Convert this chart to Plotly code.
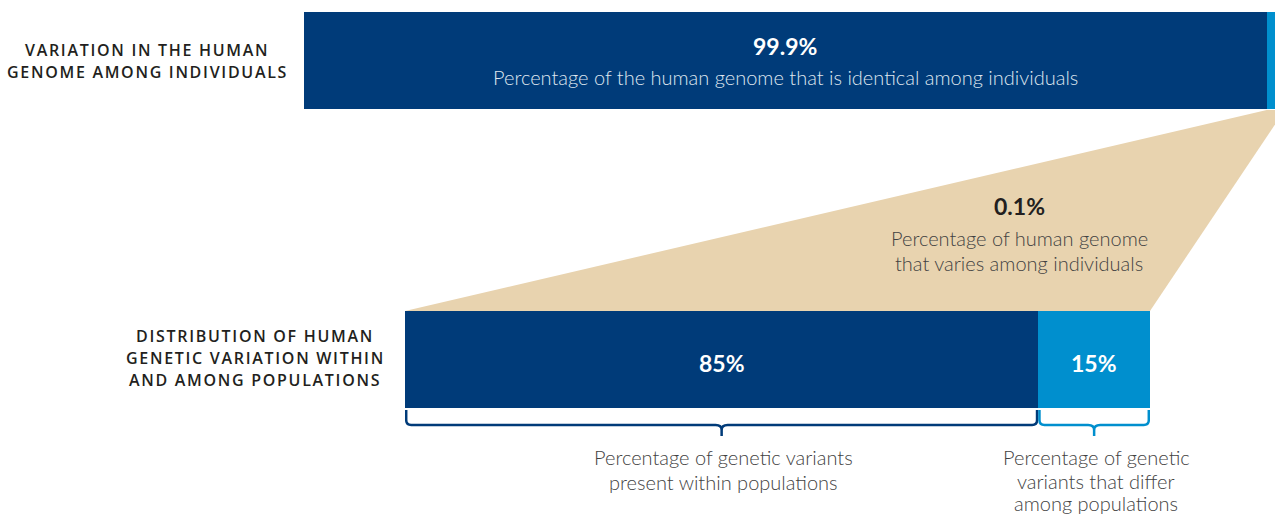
import plotly.graph_objects as go

W, H = 1275, 516

# ---- data ----
top_labels = ["Identical among individuals", "Varies among individuals"]
top_values = [99.9, 0.1]
bottom_labels = ["Within populations", "Among populations"]
bottom_values = [85, 15]
top_value_text = ["99.9%", "0.1%"]
bottom_value_text = ["85%", "15%"]

DARK = "#003B79"
LIGHT = "#008FCE"
TAN = "#E8D3AF"
GREY = "#424242"
INK = "#231f20"
FONT = "Lato"
LABEL_FONT = "Open Sans"

# axis geometry (pixels)
TOP_X0, TOP_X1 = 304, 1275
BOT_X0, BOT_X1 = 405, 1150
TOP_Y, BOT_Y, BAR_H = 60.5, 359.5, 97
SLIVER_DISPLAY = 0.85  # the 0.1% sliver is drawn wider so it stays visible


def top_px(v):
    return TOP_X0 + (TOP_X1 - TOP_X0) * v / 100.0


def bot_px(v):
    return BOT_X0 + (BOT_X1 - BOT_X0) * v / 100.0


fig = go.Figure()

# top bar
fig.add_trace(go.Bar(orientation="h", y=[TOP_Y], x=[top_values[0] + top_values[1]], base=[0],
                     width=BAR_H, marker=dict(color=DARK, line=dict(width=0)),
                     xaxis="x", yaxis="y", hoverinfo="skip", showlegend=False))
fig.add_trace(go.Bar(orientation="h", y=[TOP_Y], x=[SLIVER_DISPLAY],
                     base=[100 - SLIVER_DISPLAY], width=BAR_H,
                     marker=dict(color=LIGHT, line=dict(width=0)),
                     xaxis="x", yaxis="y", hoverinfo="skip", showlegend=False))

# bottom bar
cum = 0
for v, c in zip(bottom_values, [DARK, LIGHT]):
    fig.add_trace(go.Bar(orientation="h", y=[BOT_Y], x=[v], base=[cum], width=BAR_H,
                         marker=dict(color=c, line=dict(width=0)),
                         xaxis="x2", yaxis="y", hoverinfo="skip", showlegend=False))
    cum += v

# tan trapezoid connecting the sliver to the bottom bar
t_left = top_px(100 - SLIVER_DISPLAY) / W
t_right = top_px(101) / W
b_left = bot_px(0) / W
b_right = bot_px(100) / W
y_top = TOP_Y + BAR_H / 2 + 1
y_bot = BOT_Y - BAR_H / 2
fig.add_shape(type="path", xref="paper", yref="y",
              path=f"M {t_left},{y_top} L {t_right},{y_top} L {b_right},{y_bot} L {b_left},{y_bot} Z",
              fillcolor=TAN, line=dict(width=0), layer="below")


def brace(v0, v1, color):
    k = 100.0 / (BOT_X1 - BOT_X0)  # data units per pixel
    xa = v0 + 1.2 * k
    xb = v1 - 1.2 * k
    xm = (v0 + v1) / 2
    y0, yh, tip, r = 410, 425, 436, 5
    rx = r * k
    p = (f"M {xa},{y0} L {xa},{yh - r} Q {xa},{yh} {xa + rx},{yh} "
         f"L {xm - 6 * k},{yh} Q {xm},{yh} {xm},{yh + 5} L {xm},{tip} "
         f"M {xm},{yh + 5} Q {xm},{yh} {xm + 6 * k},{yh} "
         f"L {xb - rx},{yh} Q {xb},{yh} {xb},{yh - r} L {xb},{y0}")
    fig.add_shape(type="path", xref="x2", yref="y", path=p,
                  line=dict(color=color, width=2.5))


brace(0, bottom_values[0], DARK)
brace(bottom_values[0], 100, LIGHT)


def ann(x, y, text, size, color, weight="normal", family=FONT):
    fig.add_annotation(x=x / W, y=y, xref="paper", yref="y", text=text, showarrow=False,
                       xanchor="center", yanchor="middle",
                       font=dict(family=family, size=size, color=color, weight=weight))


def spaced(t):
    return f'<span style="letter-spacing:1.7px">{t}</span>'


SUB = 20
VAL = 23

# top bar texts
cx_top = (TOP_X0 + top_px(100 - SLIVER_DISPLAY)) / 2
ann(cx_top, 46, top_value_text[0], VAL, "white", "bold")
ann(cx_top, 77, "Percentage of the human genome that is identical among individuals", SUB, "#dfe6ef", 300)

# tan text
ann(1019, 206, top_value_text[1], VAL, INK, "bold")
ann(1019, 238, "Percentage of human genome", SUB, GREY, 300)
ann(1019, 263, "that varies among individuals", SUB, GREY, 300)

# bottom bar texts
ann(bot_px(bottom_values[0] / 2), 363, bottom_value_text[0], VAL, "white", "bold")
ann(bot_px(bottom_values[0] + bottom_values[1] / 2), 363, bottom_value_text[1], VAL, "white", "bold")

# bottom captions
ann(723, 457, "Percentage of genetic variants", SUB, GREY, 300)
ann(723, 482, "present within populations", SUB, GREY, 300)
ann(1096, 457, "Percentage of genetic", SUB, GREY, 300)
ann(1096, 481, "variants that differ", SUB, GREY, 300)
ann(1096, 503, "among populations", SUB, GREY, 300)

# row labels
ann(147, 50, spaced("VARIATION IN THE HUMAN"), 16, INK, 600, LABEL_FONT)
ann(147, 72, spaced("GENOME AMONG INDIVIDUALS"), 16, INK, 600, LABEL_FONT)
ann(255, 336, spaced("DISTRIBUTION OF HUMAN"), 16, INK, 600, LABEL_FONT)
ann(255, 358, spaced("GENETIC VARIATION WITHIN"), 16, INK, 600, LABEL_FONT)
ann(255, 380, spaced("AND AMONG POPULATIONS"), 16, INK, 600, LABEL_FONT)

fig.update_layout(
    width=W, height=H, margin=dict(l=0, r=0, t=0, b=0),
    paper_bgcolor="white", plot_bgcolor="rgba(0,0,0,0)",
    barmode="overlay", bargap=0,
    xaxis=dict(domain=[TOP_X0 / W, 1], range=[0, 100], visible=False, fixedrange=True, anchor="y"),
    xaxis2=dict(domain=[BOT_X0 / W, BOT_X1 / W], range=[0, 100], visible=False, fixedrange=True, anchor="y"),
    yaxis=dict(domain=[0, 1], range=[H, 0], visible=False, fixedrange=True),
    showlegend=False,
)

fig.write_html("out.html", config={"displayModeBar": False},
               post_script="document.body.style.margin='0px';")
